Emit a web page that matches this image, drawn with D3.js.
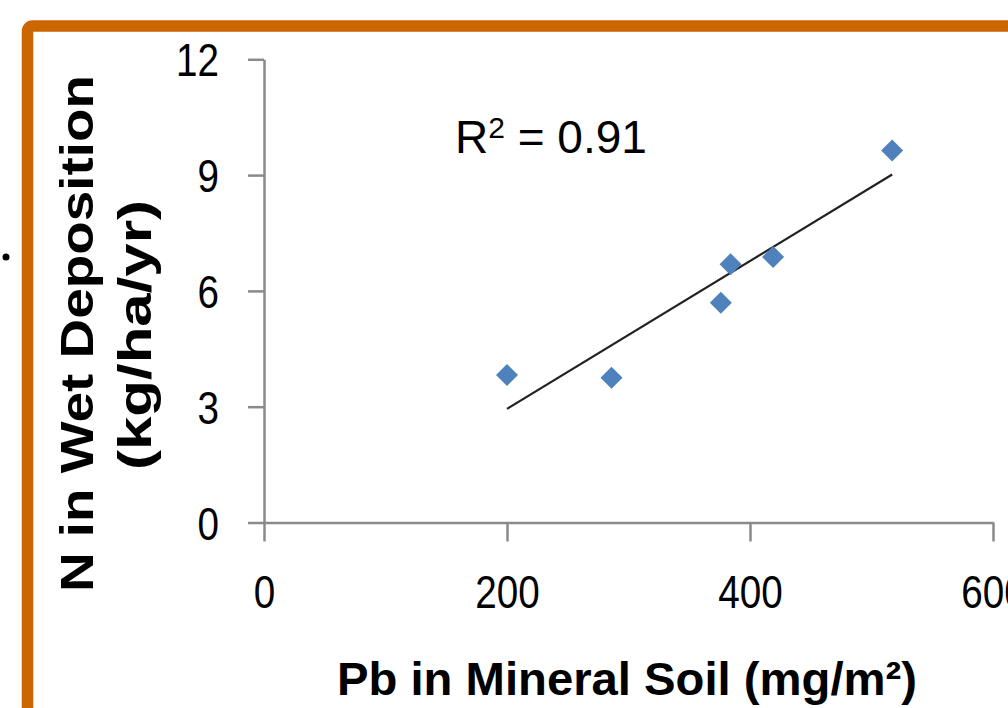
<!DOCTYPE html>
<html>
<head>
<meta charset="utf-8">
<script src="https://cdn.jsdelivr.net/npm/d3@7"></script>
<style>
  body { margin: 0; background: #fff; }
  svg { display: block; }
  .lbl { font-family: "Liberation Sans", Arial, sans-serif; fill: #000; }
</style>
</head>
<body>
<div id="chart"></div>
<script>
var width = 1008,
    height = 708;

// data
var pbSoil = [200, 286, 376, 384, 419, 517];          // mg/m2
var nWetDep = [3.82, 3.75, 5.69, 6.69, 6.88, 9.64];    // kg/ha/yr
var xTicks = [0, 200, 400, 600];
var yTicks = [0, 3, 6, 9, 12];
var rSquaredText = "0.91";

var svg = d3.select("#chart")
    .append("svg")
    .attr("width", width)
    .attr("height", height);

// orange frame (cropped at right and bottom)
svg.append("rect")
    .attr("x", 27.5)
    .attr("y", 26)
    .attr("width", 1200)
    .attr("height", 1000)
    .attr("rx", 5)
    .attr("fill", "none")
    .attr("stroke", "#cc6600")
    .attr("stroke-width", 11.5);

// stray bullet dot on the left
svg.append("circle")
    .attr("cx", 6)
    .attr("cy", 257)
    .attr("r", 3.5)
    .attr("fill", "#000");

var x = d3.scaleLinear().domain([0, 600]).range([264, 993]);
var y = d3.scaleLinear().domain([0, 12]).range([522.5, 59.3]);

var axisColor = "#8a8a8a";

var yAxis = svg.append("g")
    .attr("transform", "translate(" + x(0) + ",0)")
    .call(d3.axisLeft(y).tickValues(yTicks).tickSizeInner(16).tickSizeOuter(0).tickPadding(29));

var xAxis = svg.append("g")
    .attr("transform", "translate(0," + y(0) + ")")
    .call(d3.axisBottom(x).tickValues(xTicks).tickSizeInner(19).tickSizeOuter(0).tickPadding(34));

[xAxis, yAxis].forEach(function(g) {
    g.selectAll("path, line")
        .attr("stroke", axisColor)
        .attr("stroke-width", 2.5);
    g.selectAll("text")
        .attr("class", "lbl")
        .attr("fill", "#000")
        .style("font-size", "46px")
        // the source font is narrower than the fallback
        .attr("textLength", function(d) { return String(d).length * 21.5; })
        .attr("lengthAdjust", "spacingAndGlyphs");
});
yAxis.selectAll("text").attr("dy", "0.36em");

// linear trend line from least squares fit
var n = pbSoil.length;
var mx = d3.mean(pbSoil), my = d3.mean(nWetDep);
var sxy = 0, sxx = 0;
for (var i = 0; i < n; i++) {
    sxy += (pbSoil[i] - mx) * (nWetDep[i] - my);
    sxx += (pbSoil[i] - mx) * (pbSoil[i] - mx);
}
var slope = sxy / sxx;
var intercept = my - slope * mx;
var xMin = d3.min(pbSoil), xMax = d3.max(pbSoil);

svg.append("line")
    .attr("x1", x(xMin))
    .attr("y1", y(intercept + slope * xMin))
    .attr("x2", x(xMax))
    .attr("y2", y(intercept + slope * xMax))
    .attr("stroke", "#222")
    .attr("stroke-width", 2.2);

// diamond markers
var points = pbSoil.map(function(d, i) { return { x: d, y: nWetDep[i] }; });
svg.selectAll("path.pt")
    .data(points)
    .enter().append("path")
    .attr("class", "pt")
    .attr("d", "M0,-11L11,0L0,11L-11,0Z")
    .attr("transform", function(d) { return "translate(" + x(d.x) + "," + y(d.y) + ")"; })
    .attr("fill", "#4f81bd");

// R squared label
var r2 = svg.append("text")
    .attr("class", "lbl")
    .attr("x", 455)
    .attr("y", 153)
    .style("font-size", "46px");
r2.append("tspan").text("R");
r2.append("tspan").text("2").attr("dy", -15).style("font-size", "30px");
r2.append("tspan").text(" = " + rSquaredText).attr("dy", 15);

// x axis title
svg.append("text")
    .attr("class", "lbl")
    .attr("x", 627)
    .attr("y", 695)
    .attr("text-anchor", "middle")
    .attr("textLength", 580)
    .attr("lengthAdjust", "spacingAndGlyphs")
    .style("font-size", "46px")
    .style("font-weight", "bold")
    .text("Pb in Mineral Soil (mg/m²)");

// y axis title, two lines
var yTitle = svg.append("g");
yTitle.append("text")
    .attr("class", "lbl")
    .attr("transform", "translate(93,333.5) rotate(-90)")
    .attr("text-anchor", "middle")
    .attr("textLength", 517)
    .attr("lengthAdjust", "spacingAndGlyphs")
    .style("font-size", "47px")
    .style("font-weight", "bold")
    .text("N in Wet Deposition");
yTitle.append("text")
    .attr("class", "lbl")
    .attr("transform", "translate(151,335) rotate(-90)")
    .attr("text-anchor", "middle")
    .attr("textLength", 270)
    .attr("lengthAdjust", "spacingAndGlyphs")
    .style("font-size", "47px")
    .style("font-weight", "bold")
    .text("(kg/ha/yr)");
</script>
</body>
</html>
